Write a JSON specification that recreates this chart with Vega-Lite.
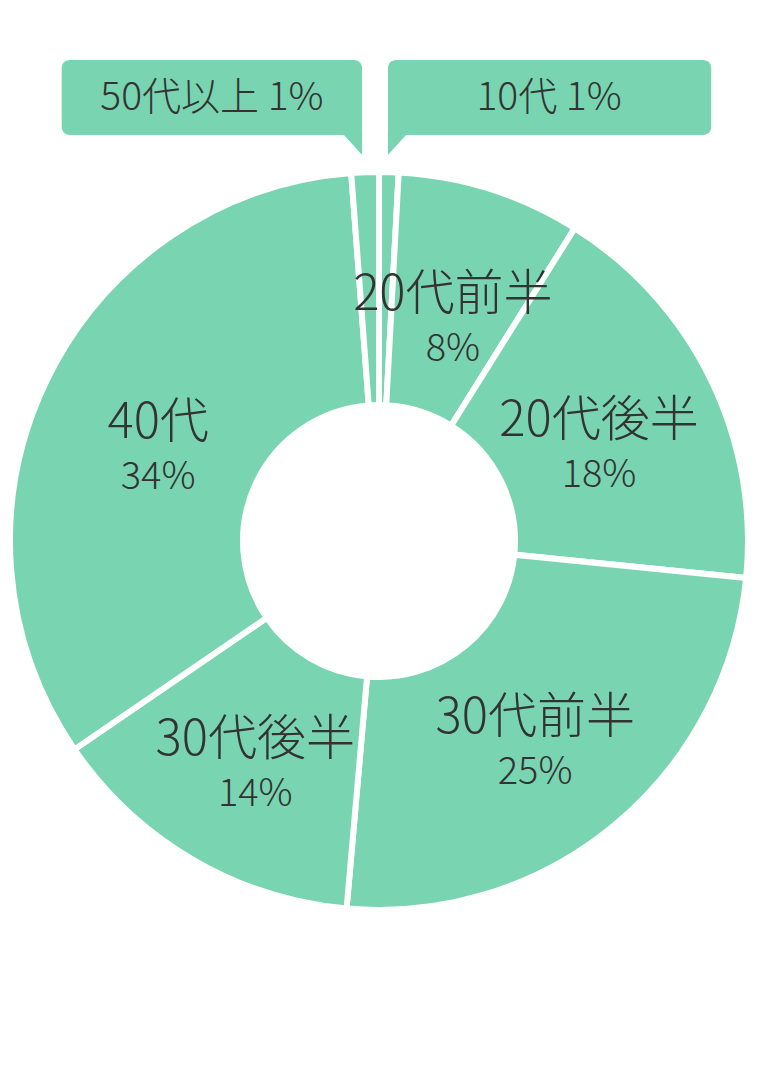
{
  "$schema": "https://vega.github.io/schema/vega-lite/v6.json",
  "width": 758,
  "height": 1086,
  "autosize": {"type": "fit", "contains": "padding"},
  "padding": {"top": 0, "left": 0, "right": 0, "bottom": 4},
  "background": "#ffffff",
  "config": {
    "view": {"stroke": null},
    "text": {"font": "Noto Sans CJK JP", "fontWeight": 300, "color": "#333333"}
  },
  "datasets": {
    "ages": [
      {"rank": 1, "label": "10代", "value": 0.85, "pct": "1%"},
      {"rank": 2, "label": "20代前半", "value": 8.05, "pct": "8%"},
      {"rank": 3, "label": "20代後半", "value": 17.7, "pct": "18%"},
      {"rank": 4, "label": "30代前半", "value": 24.8, "pct": "25%"},
      {"rank": 5, "label": "30代後半", "value": 14.05, "pct": "14%"},
      {"rank": 6, "label": "40代", "value": 33.35, "pct": "34%"},
      {"rank": 7, "label": "50代以上", "value": 1.2, "pct": "1%"}
    ]
  },
  "layer": [
    {
      "data": {"name": "ages"},
      "encoding": {
        "theta": {"field": "value", "type": "quantitative", "stack": true},
        "order": {"field": "rank", "type": "quantitative"}
      },
      "layer": [
        {
          "mark": {"type": "arc", "outerRadius": 369, "innerRadius": 136, "fill": "#79d5b1", "stroke": "#ffffff", "strokeWidth": 6}
        },
        {
          "mark": {"type": "text", "radius": 245, "fontSize": 49, "dy": -12, "baseline": "middle", "align": "center"},
          "encoding": {
            "text": {"field": "label"},
            "opacity": {"condition": {"test": "datum.value < 5", "value": 0}, "value": 1}
          }
        },
        {
          "mark": {"type": "text", "radius": 245, "fontSize": 38, "dy": 43, "baseline": "middle", "align": "center"},
          "encoding": {
            "text": {"field": "pct"},
            "opacity": {"condition": {"test": "datum.value < 5", "value": 0}, "value": 1}
          }
        }
      ]
    },
    {
      "data": {"values": [{}]},
      "mark": {"type": "rect", "fill": "#79d5b1", "cornerRadius": 8, "cornerRadiusBottomRight": 0},
      "encoding": {
        "x": {"datum": 60, "type": "quantitative", "scale": {"domain": [0, 758], "nice": false, "zero": false}, "axis": null},
        "x2": {"datum": 362},
        "y": {"datum": 60, "type": "quantitative", "scale": {"domain": [0, 1082], "nice": false, "zero": false, "reverse": true}, "axis": null},
        "y2": {"datum": 135}
      }
    },
    {
      "data": {"values": [{}]},
      "mark": {"type": "point", "filled": true, "opacity": 1, "fill": "#79d5b1", "strokeWidth": 0, "size": 400, "shape": "M-1,-1.2L1,-1.2L1,1Z"},
      "encoding": {
        "x": {"datum": 352, "type": "quantitative"},
        "y": {"datum": 145, "type": "quantitative"}
      }
    },
    {
      "data": {"values": [{}]},
      "mark": {"type": "rect", "fill": "#79d5b1", "cornerRadius": 8, "cornerRadiusBottomLeft": 0},
      "encoding": {
        "x": {"datum": 388, "type": "quantitative"},
        "x2": {"datum": 713},
        "y": {"datum": 60, "type": "quantitative"},
        "y2": {"datum": 135}
      }
    },
    {
      "data": {"values": [{}]},
      "mark": {"type": "point", "filled": true, "opacity": 1, "fill": "#79d5b1", "strokeWidth": 0, "size": 400, "shape": "M-1,-1.2L1,-1.2L-1,1Z"},
      "encoding": {
        "x": {"datum": 398, "type": "quantitative"},
        "y": {"datum": 145, "type": "quantitative"}
      }
    },
    {
      "data": {"name": "ages"},
      "transform": [
        {"filter": "datum.rank == 7"},
        {"calculate": "datum.label + ' ' + datum.pct", "as": "callout"}
      ],
      "mark": {"type": "text", "fontSize": 39, "baseline": "middle", "align": "center"},
      "encoding": {
        "x": {"datum": 211, "type": "quantitative"},
        "y": {"datum": 98, "type": "quantitative"},
        "text": {"field": "callout"}
      }
    },
    {
      "data": {"name": "ages"},
      "transform": [
        {"filter": "datum.rank == 1"},
        {"calculate": "datum.label + ' ' + datum.pct", "as": "callout"}
      ],
      "mark": {"type": "text", "fontSize": 39, "baseline": "middle", "align": "center"},
      "encoding": {
        "x": {"datum": 550, "type": "quantitative"},
        "y": {"datum": 98, "type": "quantitative"},
        "text": {"field": "callout"}
      }
    }
  ]
}
